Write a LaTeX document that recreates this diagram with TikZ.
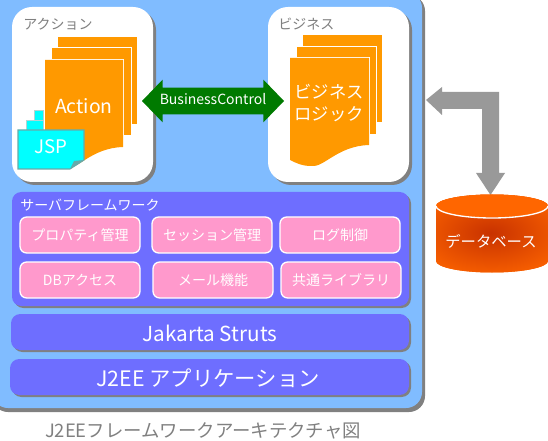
\documentclass[tikz,border=0pt]{standalone}
\usepackage{fontspec}
\setmainfont{Noto Sans CJK JP}
\usetikzlibrary{shapes.arrows,shapes.geometric}
\definecolor{paneblue}{HTML}{80BCFF}
\definecolor{barblue}{HTML}{6E6EFF}
\definecolor{pagegold}{HTML}{FF9900}
\definecolor{btnpink}{HTML}{FF99CC}
\definecolor{drumred}{HTML}{FF6600}
\definecolor{drumdark}{HTML}{C83200}
\definecolor{edgegray}{HTML}{808080}
\definecolor{jspcyan}{HTML}{00FFFF}
\definecolor{jspedge}{HTML}{66AAAA}
\definecolor{ctrlgreen}{HTML}{007A00}
\tikzset{
  cardbox/.style={fill=white, rounded corners=15pt},
  barbox/.style={fill=barblue, rounded corners=7pt, text=white},
  btnbox/.style={fill=btnpink, draw=white, line width=1pt, rounded corners=5pt, text=white, font=\fontsize{10.5pt}{12pt}\selectfont},
  capt/.style={text=edgegray, font=\fontsize{10.5pt}{12pt}\selectfont, anchor=west, inner sep=0pt}
}
\newcommand{\sheet}[5]{% left, top, right, low right, low left
  \fill[pagegold] (#1,#2) -- (#3,#2) -- (#3,#4) .. controls (#3-32,#4+1) and (#3-45,#5+8) .. (#1+21,#5+6) .. controls (#1+12,#5+6) and (#1+6,#5+3) .. (#1,#5) -- cycle;
}
\begin{document}
\begin{tikzpicture}[x=0.75pt, y=-0.75pt]
  \useasboundingbox (0,0) rectangle (548,441);
  % panel
  \begin{scope}
    \clip (0,0) rectangle (548,441);
    \fill[edgegray, rounded corners=12pt] (-8,-5) rectangle (425,412);
    \fill[paneblue, rounded corners=12pt] (-8,-8) rectangle (422,408);
  \end{scope}
  % cards
  \foreach \x in {12,268} {
    \fill[edgegray, rounded corners=15pt] (\x+3,10) rectangle (\x+144,185);
    \fill[cardbox] (\x,7) rectangle (\x+141,182);
  }
  \node[capt] (actioncap) at (23,24) {アクション};
  \node[capt] (businesscap) at (278,24) {ビジネス};
  % pages
  \foreach \l/\t in {58/37, 52/48} {
    \fill[white] (\l-1,\t-1) rectangle (\l+80,\t+88);
    \fill[pagegold] (\l,\t) rectangle (\l+79,\t+87);
  }
  \foreach \l/\t in {303/35, 297/47} {
    \fill[white] (\l-1,\t-1) rectangle (\l+80,\t+88);
    \fill[pagegold] (\l,\t) rectangle (\l+79,\t+87);
  }
  \fill[white] (44,59) rectangle (124,150);
  \sheet{45}{60}{123}{147}{162}
  \fill[white] (289,57) rectangle (370,148);
  \sheet{290}{58}{369}{145}{160}
  \node[text=white, font=\fontsize{14.5pt}{16pt}\selectfont] (action) at (84,106) {Action};
  \node[text=white, align=center, font=\fontsize{13pt}{17pt}\selectfont] (logic) at (329,103) {ビジネス\\ロジック};
  % jsp
  \foreach \l/\t/\r/\b in {34/110/43/121, 26/120/43/131} {
    \fill[jspcyan, draw=jspedge!50!white, line width=0.5pt] (\l,\t) rectangle (\r,\b);
  }
  \fill[jspcyan, draw=jspedge, line width=0.8pt] (18,130) -- (84,130) -- (84,160) -- (70,169) -- (18,169) -- cycle;
  \fill[jspedge] (84,160) -- (74,161) -- (70,169) -- cycle;
  \node[text=white, font=\fontsize{14pt}{16pt}\selectfont] (jsp) at (51,147) {JSP};
  % control arrow
  \node[double arrow, fill=ctrlgreen, text=white, inner xsep=0pt, inner ysep=4.75pt, text height=8pt, text depth=2pt, minimum height=106.5pt, double arrow head extend=6pt, double arrow tip angle=92, font=\fontsize{10.5pt}{12pt}\selectfont] (control) at (213,101) {BusinessControl};
  % database arrow
  \fill[black!40] (426,100) -- (442,87) -- (442,92) -- (499,92) -- (499,173) -- (505,173) -- (490.5,195) -- (476,173) -- (482,173) -- (482,109) -- (442,109) -- (442,115) -- cycle;
  % database
  \begin{scope}
    \clip (436,206) arc[x radius=56, y radius=11.5, start angle=180, end angle=360] -- (548,261) arc[x radius=56, y radius=11.5, start angle=0, end angle=180] -- cycle;
    \fill[drumred] (430,190) rectangle (548,280);
    \shade[inner color=drumdark, outer color=drumred] (491,233) ellipse[x radius=90, y radius=50];
  \end{scope}
  \fill[drumred] (436,206) arc[x radius=56, y radius=11.5, start angle=180, end angle=-180];
  \draw[white, line width=1pt] (436,206) arc[x radius=56, y radius=12, start angle=180, end angle=0];
  \node[text=white, font=\fontsize{11.5pt}{14pt}\selectfont] (dbtext) at (491,241) {データベース};
  % framework
  \foreach \t/\b/\l in {192/306/12, 314/350/11, 359/395/10} {
    \fill[edgegray, rounded corners=7pt] (\l+2,\t+2) rectangle (411,\b+2);
    \fill[barblue, rounded corners=7pt] (\l,\t) rectangle (409,\b);
  }
  \node[capt, text=white] (servercap) at (20,205) {サーバフレームワーク};
  \foreach \n/\l/\t/\lab in {prop/20/217/プロパティ管理, sess/152/217/セッション管理, logc/280/217/ログ制御, dbac/20/262/DBアクセス, mail/153/262/メール機能, libr/281/262/共通ライブラリ} {
    \node[btnbox, minimum width=90pt, minimum height=27pt, inner sep=0pt] (\n) at (\l+60,\t+18) {\lab};
  }
  \node[text=white, font=\fontsize{15.5pt}{18pt}\selectfont] (struts) at (210,333) {Jakarta Struts};
  \node[text=white, font=\fontsize{16pt}{18pt}\selectfont] (j2ee) at (208,378) {J2EE アプリケーション};
  \node[text=edgegray, font=\fontsize{13.8pt}{16pt}\selectfont] (title) at (203,431) {J2EEフレームワークアーキテクチャ図};
\end{tikzpicture}
\end{document}
